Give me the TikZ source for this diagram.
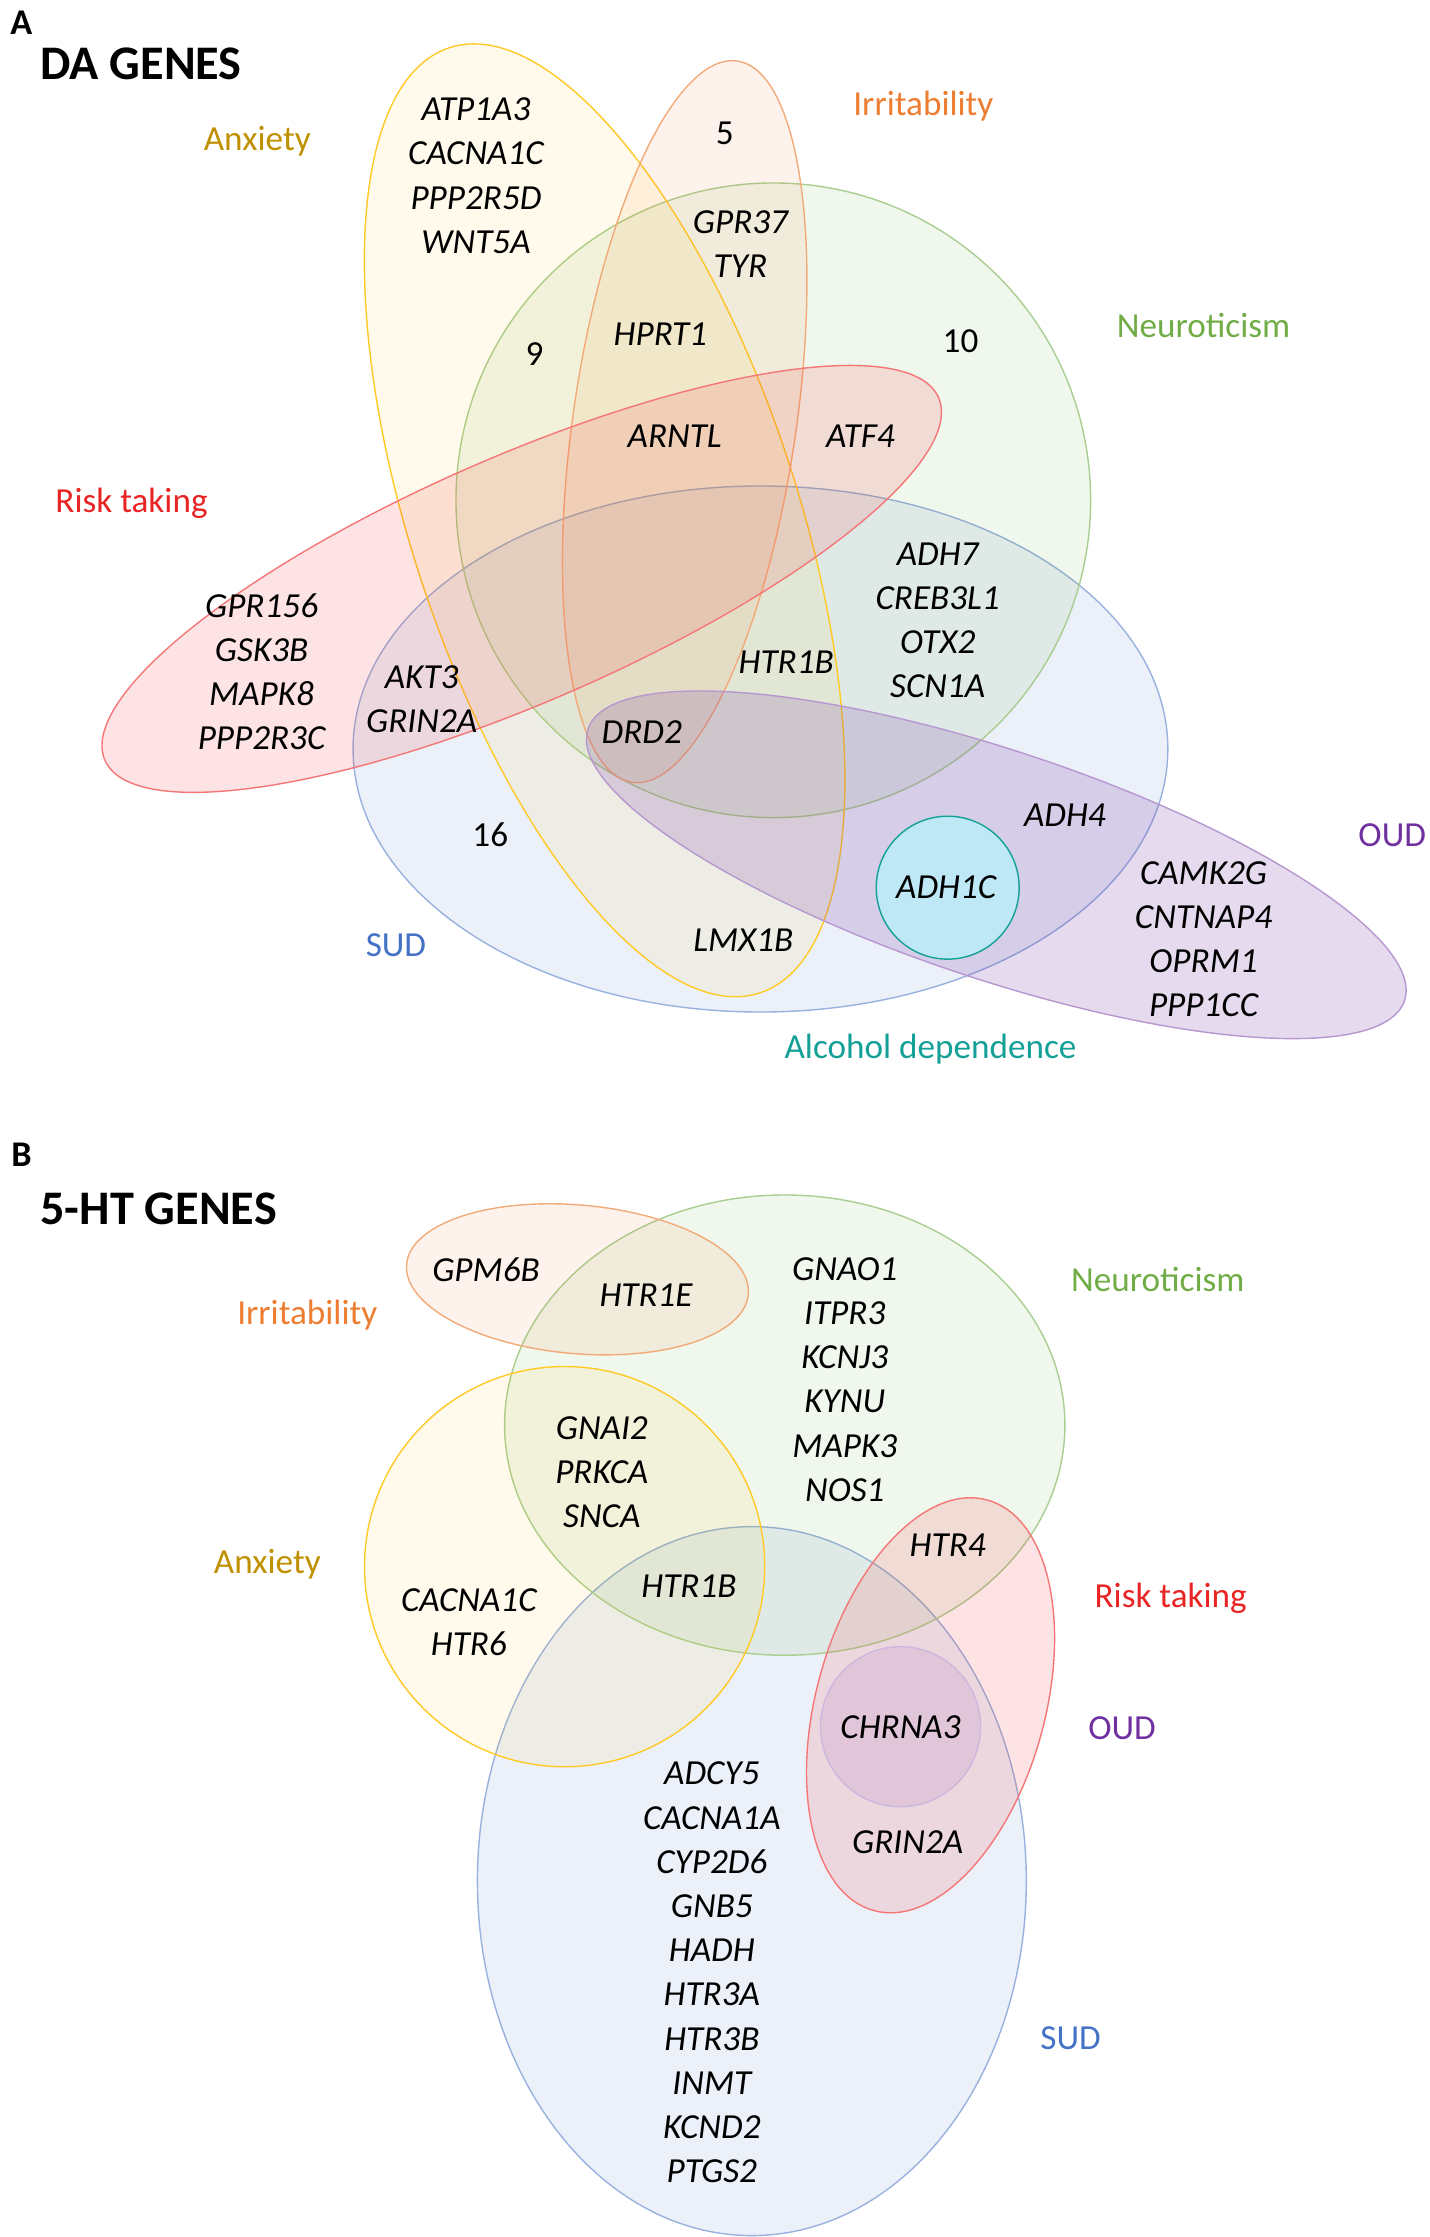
\documentclass[tikz,border=0pt]{standalone}
\usepackage{fontspec}
\setmainfont{Carlito}
\definecolor{anx}{RGB}{255,192,0}
\definecolor{anxtext}{RGB}{191,144,0}
\definecolor{irr}{RGB}{237,125,49}
\definecolor{neu}{RGB}{112,173,71}
\definecolor{risk}{RGB}{240,60,60}
\definecolor{risktext}{RGB}{232,36,36}
\definecolor{sud}{RGB}{68,114,196}
\definecolor{oud}{RGB}{112,48,160}
\definecolor{alc}{RGB}{20,160,150}
\definecolor{alcfill}{RGB}{190,232,246}

\begin{document}
\begin{tikzpicture}[x=0.025cm,y=-0.025cm,
  gene node/.style={font=\fontsize{17.5}{22}\selectfont\itshape,align=center,inner sep=0pt},
  set label/.style={font=\fontsize{17.5}{22}\selectfont,inner sep=0pt},
  title node/.style={font=\fontsize{24}{28}\selectfont\bfseries,anchor=west,inner sep=0pt},
  panel node/.style={font=\fontsize{18}{20}\selectfont\bfseries,inner sep=0pt},
  venn/.style={line width=0.7pt}]

  \useasboundingbox (0,0) rectangle (1000,1565);

  % panel A: DA genes
  \draw[venn,draw=sud!55,fill=sud,fill opacity=.1] (532,524) ellipse [x radius=285,y radius=184];
  \draw[venn,draw=neu!60,fill=neu,fill opacity=.1] (541,350) ellipse [x radius=222,y radius=222];
  \draw[venn,draw=anx!85,fill=anx,fill opacity=.08,shift={(423,364)},rotate=-71.8] (0,0) ellipse [x radius=348,y radius=135];
  \draw[venn,draw=irr!65,fill=irr,fill opacity=.09,shift={(479,295)},rotate=81.7] (0,0) ellipse [x radius=255,y radius=78];
  \draw[venn,draw=risk!70,fill=risk,fill opacity=.14,shift={(365,405)},rotate=23.5] (0,0) ellipse [x radius=318,y radius=86];
  \draw[venn,draw=oud!50,fill=oud,fill opacity=.18,shift={(697,605)},rotate=-18.4] (0,0) ellipse [x radius=301,y radius=80];
  \draw[venn,draw=alc,fill=alcfill] (663,621) circle [radius=50];

  \node[panel node] (1) at (15,16) {A};
  \node[title node] (2) at (28,45) {DA GENES};

  \node[set label,text=anxtext] (3) at (180,99) {Anxiety};
  \node[set label,text=irr] (4) at (646,74) {Irritability};
  \node[set label,text=neu] (5) at (842,228) {Neuroticism};
  \node[set label,text=risktext] (6) at (92,352) {Risk taking};
  \node[set label,text=oud] (7) at (974,584) {OUD};
  \node[set label,text=sud] (8) at (277,661) {SUD};
  \node[set label,text=alc] (9) at (651,734) {Alcohol dependence};

  \node[gene node] (10) at (333,123) {ATP1A3\\CACNA1C\\PPP2R5D\\WNT5A};
  \node[set label] (11) at (507,93) {5};
  \node[gene node] (12) at (518,171) {GPR37\\TYR};
  \node[set label] (13) at (374,248) {9};
  \node[gene node] (14) at (462,234) {HPRT1};
  \node[set label] (15) at (672,239) {10};
  \node[gene node] (16) at (472,305) {ARNTL};
  \node[gene node] (17) at (602,305) {ATF4};
  \node[gene node] (18) at (183,470) {GPR156\\GSK3B\\MAPK8\\PPP2R3C};
  \node[gene node] (19) at (295,489) {AKT3\\GRIN2A};
  \node[gene node] (20) at (656,434) {ADH7\\CREB3L1\\OTX2\\SCN1A};
  \node[gene node] (21) at (550,463) {HTR1B};
  \node[gene node] (22) at (449,512) {DRD2};
  \node[set label] (23) at (343,584) {16};
  \node[gene node] (24) at (745,570) {ADH4};
  \node[gene node] (25) at (662,621) {ADH1C};
  \node[gene node] (26) at (842,657) {CAMK2G\\CNTNAP4\\OPRM1\\PPP1CC};
  \node[gene node] (27) at (520,658) {LMX1B};

  % panel B: 5-HT genes
  \draw[venn,draw=sud!55,fill=sud,fill opacity=.1] (526,1316) ellipse [x radius=192,y radius=248];
  \draw[venn,draw=neu!60,fill=neu,fill opacity=.1] (549,997) ellipse [x radius=196,y radius=161];
  \draw[venn,draw=anx!85,fill=anx,fill opacity=.08] (395,1096) circle [radius=140];
  \draw[venn,draw=irr!65,fill=irr,fill opacity=.09,shift={(404,895)},rotate=-5] (0,0) ellipse [x radius=120,y radius=52];
  \draw[venn,draw=risk!70,fill=risk,fill opacity=.14,shift={(651,1193)},rotate=74.5] (0,0) ellipse [x radius=149,y radius=80];
  \draw[venn,draw=oud!35,fill=oud,fill opacity=.1] (630,1208) circle [radius=56];

  \node[panel node] (28) at (15,808) {B};
  \node[title node] (29) at (28,846) {5-HT GENES};

  \node[set label,text=irr] (30) at (215,920) {Irritability};
  \node[set label,text=neu] (31) at (810,895) {Neuroticism};
  \node[set label,text=anxtext] (32) at (187,1094) {Anxiety};
  \node[set label,text=risktext] (33) at (819,1118) {Risk taking};
  \node[set label,text=oud] (34) at (785,1209) {OUD};
  \node[set label,text=sud] (35) at (749,1426) {SUD};

  \node[gene node] (36) at (340,888) {GPM6B};
  \node[gene node] (37) at (452,906) {HTR1E};
  \node[gene node] (38) at (591,965) {GNAO1\\ITPR3\\KCNJ3\\KYNU\\MAPK3\\NOS1};
  \node[gene node] (39) at (421,1030) {GNAI2\\PRKCA\\SNCA};
  \node[gene node] (40) at (663,1081) {HTR4};
  \node[gene node] (41) at (482,1110) {HTR1B};
  \node[gene node] (42) at (328,1135) {CACNA1C\\HTR6};
  \node[gene node] (43) at (630,1208) {CHRNA3};
  \node[gene node] (44) at (635,1289) {GRIN2A};
  \node[gene node] (45) at (498,1380) {ADCY5\\CACNA1A\\CYP2D6\\GNB5\\HADH\\HTR3A\\HTR3B\\INMT\\KCND2\\PTGS2};
\end{tikzpicture}
\end{document}
